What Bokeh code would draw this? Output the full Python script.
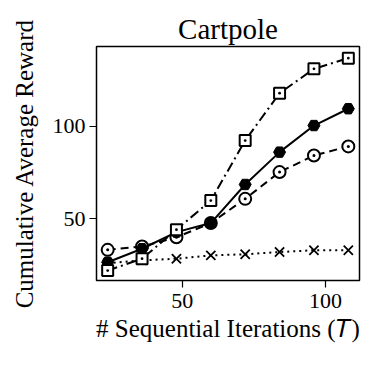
from bokeh.plotting import figure
from bokeh.embed import file_html
from bokeh.resources import INLINE
from bokeh.models import Range1d, FixedTicker

iterations = [24, 36, 48, 60, 72, 84, 96, 108]
series_square = [22, 28.4, 44.1, 59.9, 92.4, 118, 131.2, 137]
series_pentagon = [26.5, 33.8, 42.8, 47.7, 68.6, 86.1, 100.5, 109.6]
series_circle = [33.2, 35, 40, 47.7, 60.8, 75.3, 84.3, 89.2]
series_x = [26, 27.5, 28.4, 30.2, 30.8, 32, 33, 33]

FONT = "Liberation Serif"

p = figure(width=366, height=356, output_backend="svg", toolbar_location=None,
           x_range=Range1d(20.1, 111.9), y_range=Range1d(16.6, 143.3),
           min_border_left=96, min_border_right=7, min_border_top=46, min_border_bottom=76,
           title="Cartpole")

p.title.text_font = FONT
p.title.text_font_size = "29px"
p.title.text_font_style = "normal"
p.title.align = "center"
p.title.text_color = "black"
p.title.standoff = 3

p.outline_line_color = "black"
p.outline_line_width = 1.5
p.grid.visible = False

for ax in (p.xaxis, p.yaxis):
    ax.major_label_text_font = FONT
    ax.major_label_text_font_size = "22px"
    ax.major_label_text_color = "black"
    ax.axis_label_text_font = FONT
    ax.axis_label_text_font_size = "25px"
    ax.axis_label_text_font_style = "normal"
    ax.axis_label_text_color = "black"
    ax.minor_tick_line_color = None
    ax.major_tick_in = 0
    ax.major_tick_out = 7
    ax.major_tick_line_width = 1.2
    ax.axis_line_color = None

p.xaxis.ticker = FixedTicker(ticks=[50, 100])
p.yaxis.ticker = FixedTicker(ticks=[50, 100])
p.xaxis.axis_label = "# Sequential Iterations (𝑇)"
p.yaxis.axis_label = "Cumulative Average Reward"
p.xaxis.axis_label_standoff = 4
p.yaxis.axis_label_standoff = 12
p.xaxis.major_label_standoff = 6
p.yaxis.major_label_standoff = 4

lw = 2
p.line(iterations, series_x, line_color="black", line_width=lw, line_dash="2 4")
p.scatter(iterations, series_x, marker="x", size=13, line_color="black", line_width=1.8)

p.line(iterations, series_circle, line_color="black", line_width=lw, line_dash="8 5")
p.scatter(iterations, series_circle, marker="circle_dot", size=12, line_color="black",
          fill_color="white", line_width=2)

p.line(iterations, series_pentagon, line_color="black", line_width=lw)
p.scatter(iterations, series_pentagon, marker="hex", size=12, line_color="black",
          fill_color="black", line_width=1)

p.line(iterations, series_square, line_color="black", line_width=lw, line_dash="10 4 2 4")
p.scatter(iterations, series_square, marker="square_dot", size=11, line_color="black",
          fill_color="white", line_width=2)

open("out.html", "w").write(file_html(p, INLINE))
